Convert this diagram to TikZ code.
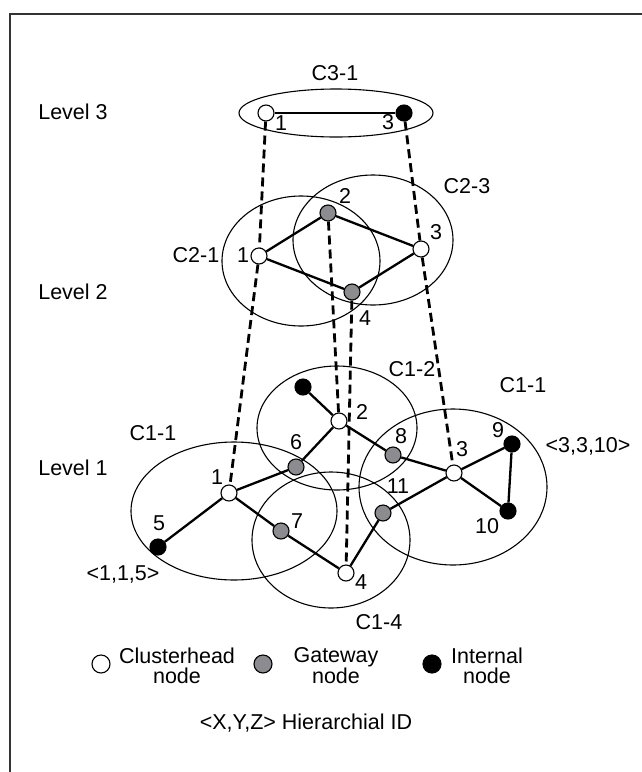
\documentclass[tikz,border=0pt]{standalone}
\usepackage{fontspec}
\setmainfont{Liberation Sans}
\definecolor{gwgray}{RGB}{140,140,144}
\begin{document}
\begin{tikzpicture}[x=1pt,y=-1pt,
  font=\fontsize{21.5}{21}\selectfont,
  chead/.style={circle,draw,fill=white,line width=1.1pt,minimum size=16pt,inner sep=0pt},
  gway/.style={chead,fill=gwgray},
  inode/.style={chead,fill=black},
  legnode/.style={circle,draw,line width=1.1pt,minimum size=18pt,inner sep=0pt},
  link/.style={line width=2.3pt},
  vlink/.style={line width=2.8pt,dash pattern=on 9pt off 5pt},
  cluster/.style={line width=1.1pt},
  lbl/.style={inner sep=0pt},
  leglbl/.style={inner sep=0pt,align=center,font=\fontsize{21.5}{20}\selectfont}]
\useasboundingbox (0,0) rectangle (642,772);
\fill[white] (0,0) rectangle (642,772);

% frame
\draw[line width=1.2pt,black!80] (642,14) -- (10,14) -- (10,772);

% level captions
\node[lbl] (lv3) at (73,112) {Level 3};
\node[lbl] (lv2) at (73,292) {Level 2};
\node[lbl] (lv1) at (73,468) {Level 1};

% cluster outlines
\draw[cluster] (336,113) ellipse [x radius=97, y radius=24];
\draw[cluster] (301,261) ellipse [x radius=79, y radius=65];
\draw[cluster] (373,240) ellipse [x radius=80, y radius=65];
\draw[cluster] (234,511) ellipse [x radius=103, y radius=69];
\draw[cluster] (337,428) ellipse [x radius=80, y radius=62];
\draw[cluster] (331,540) ellipse [x radius=79, y radius=68];
\draw[cluster] (453,487) ellipse [x radius=94, y radius=78];

% level 3 nodes
\node[chead] (t1) at (266,113) {};
\node[inode] (t3) at (404,113) {};
% level 2 nodes
\node[chead] (m1) at (259,256) {};
\node[gway]  (m2) at (328,213) {};
\node[chead] (m3) at (421,249) {};
\node[gway]  (m4) at (352,292) {};
% level 1 nodes
\node[chead] (b1) at (229,493) {};
\node[inode] (b5) at (158,547) {};
\node[gway]  (b6) at (296,467) {};
\node[chead] (b2) at (339,421) {};
\node[inode] (bt) at (303,387) {};
\node[gway]  (b8) at (393,455) {};
\node[chead] (b3) at (454,473) {};
\node[inode] (b9) at (512,444) {};
\node[inode] (b10) at (508,511) {};
\node[gway]  (b11) at (383,513) {};
\node[gway]  (b7) at (281,531) {};
\node[chead] (b4) at (346,573) {};

% solid links
\draw[link] (t1) -- (t3);
\draw[link] (m1) -- (m2) -- (m3) -- (m4) -- (m1);
\draw[link] (b5) -- (b1) -- (b6) -- (b2) -- (bt);
\draw[link] (b2) -- (b8) -- (b3) -- (b9) -- (b10) -- (b3);
\draw[link] (b3) -- (b11) -- (b4) -- (b7) -- (b1);

% hierarchy links
\draw[vlink] (t1) -- (m1);
\draw[vlink] (m1) -- (b1);
\draw[vlink] (t3) -- (m3);
\draw[vlink] (m3) -- (b3);
\draw[vlink] (m2) -- (b2);
\draw[vlink] (m4) -- (b4);

% cluster names
\node[lbl] (c31) at (335,73) {C3-1};
\node[lbl] (c21) at (196,255) {C2-1};
\node[lbl] (c23) at (467,186) {C2-3};
\node[lbl] (c11a) at (153,433) {C1-1};
\node[lbl] (c12) at (412,369) {C1-2};
\node[lbl] (c11b) at (523,385) {C1-1};
\node[lbl] (c14) at (379,622) {C1-4};

% node numbers
\node[lbl] (nt1) at (281,123) {1};
\node[lbl] (nt3) at (388,122) {3};
\node[lbl] (nm1) at (243,255) {1};
\node[lbl] (nm2) at (345,196) {2};
\node[lbl] (nm3) at (436,232) {3};
\node[lbl] (nm4) at (365,318) {4};
\node[lbl] (nb1) at (217,477) {1};
\node[lbl] (nb5) at (159,523) {5};
\node[lbl] (nb6) at (296,442) {6};
\node[lbl] (nb2) at (362,412) {2};
\node[lbl] (nb8) at (401,436) {8};
\node[lbl] (nb3) at (462,449) {3};
\node[lbl] (nb9) at (498,430) {9};
\node[lbl] (nb10) at (487,526) {10};
\node[lbl] (nb11) at (398,486) {11};
\node[lbl] (nb7) at (297,521) {7};
\node[lbl] (nb4) at (361,582) {4};

% hierarchical ids
\node[lbl] (id115) at (123,574) {<1,1,5>};
\node[lbl] (id3310) at (588,446) {<3,3,10>};

% legend
\node[legnode,fill=white] (lg1) at (101,664) {};
\node[leglbl] (lt1) at (177,666) {Clusterhead\\node};
\node[legnode,fill=gwgray] (lg2) at (263,664) {};
\node[leglbl] (lt2) at (336,666) {Gateway\\node};
\node[legnode,fill=black] (lg3) at (432,664) {};
\node[leglbl] (lt3) at (487,666) {Internal\\node};
\node[lbl] (lgid) at (306,723) {<X,Y,Z> Hierarchial ID};
\end{tikzpicture}
\end{document}
